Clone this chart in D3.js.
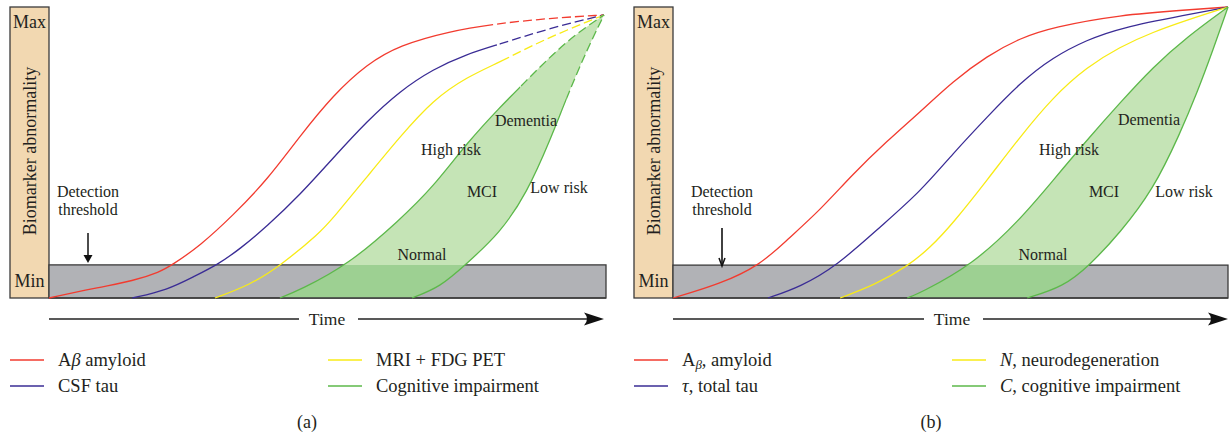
<!DOCTYPE html>
<html><head><meta charset="utf-8">
<script src="https://cdn.jsdelivr.net/npm/d3@7"></script>
<style>
body{margin:0;background:#fff}
svg{display:block}
text{font-family:"Liberation Serif","Times New Roman",serif;fill:#231f20}
</style>
</head><body>
<svg id="c" width="1229" height="436"></svg>
<script>
// ---------- DATA (time 0..100, abnormality 0..100) ----------
const tickLabels = ["Min", "Max"];
const thresholds = [11.7, 11.3];           // detection threshold level, panel a / b
const seriesColors = ["#f23b2f", "#3a2c95", "#f8eb16", "#5cb84a", "#5cb84a"];

// Panel (a)
const amyloidA = [[0,0],[9.2,3.9],[15.1,6.0],[20.0,9.2],[22.2,11.7],[27.2,18.4],[33.2,29.3],[39.3,41.7],[45.2,57.2],[51.2,71.7],[57.3,82.7],[63.2,89.4],[72.3,94.3],[80.0,96.8],[90.3,98.9],[100,100]];
const tauA     = [[15.0,0],[21.3,2.8],[26.3,7.8],[30.3,11.7],[34.4,17.3],[39.3,25.4],[45.2,36.4],[51.2,49.5],[57.3,62.5],[63.2,73.1],[69.2,80.9],[75.3,86.2],[80.7,89.4],[90.3,95.4],[100,100]];
const mriA     = [[29.9,0],[36.2,4.6],[41.6,11.3],[48.8,23.0],[51.2,28.3],[57.3,42.8],[63.2,56.9],[69.2,70.0],[75.3,78.1],[81.3,83.4],[87.2,89.4],[93.3,94.7],[100,100]];
const cogHighA = [[41.6,0],[45.2,2.8],[53.9,11.7],[63.2,27.6],[69.2,39.2],[75.3,54.8],[81.3,67.5],[84.9,74.6],[93.3,91.2],[100,100]];
const cogLowA  = [[65.4,0],[70.5,3.9],[75.0,11.7],[81.3,23.0],[86.1,37.1],[90.3,55.8],[93.3,71.0],[96.9,87.6],[100,100]];
const dashStartA = [80.0, 80.7, 82.5, 84.9, 93.3];

// Panel (b)
const amyloidB = [[0,0],[8.5,4.8],[15.7,11.3],[20.5,19.9],[26.5,30.2],[32.4,42.6],[38.6,54.0],[44.5,63.9],[50.5,74.6],[56.6,83.2],[62.5,89.3],[68.5,93.1],[80.5,97.3],[92.6,99.0],[100,100]];
const tauB     = [[17.1,0],[22.9,3.8],[29.5,11.0],[37.3,24.4],[44.5,36.4],[50.5,49.8],[56.6,62.2],[62.5,73.9],[68.5,82.8],[74.6,88.7],[80.5,92.8],[92.6,97.3],[100,100]];
const neuroB   = [[30.1,0],[36.4,4.5],[42.3,11.0],[46.3,17.2],[50.5,25.8],[56.6,40.5],[62.5,55.3],[68.5,69.1],[74.6,79.4],[80.5,86.3],[86.5,91.4],[92.6,95.5],[100,100]];
const cogHighB = [[42.2,0],[44.5,1.7],[53.9,11.3],[62.5,26.8],[68.5,40.5],[74.6,54.3],[80.5,67.0],[86.5,79.4],[92.6,89.7],[100,100]];
const cogLowB  = [[63.8,0],[70.3,3.8],[75.1,11.3],[80.5,22.3],[86.5,37.1],[91.4,56.7],[94.4,70.4],[97.3,85.2],[100,100]];
const dashStartB = [null, null, null, null, null];

// Text
const axisTitle = "Biomarker abnormality";
const timeLabel = "Time";
const detectionLabel = ["Detection", "threshold"];
const regionLabels = ["Dementia", "High risk", "MCI", "Low risk", "Normal"];
const legendA = [[["A"],["β","i"],[" amyloid"]], [["CSF tau"]], [["MRI + FDG PET"]], [["Cognitive impairment"]]];
const legendB = [[["A"],["β","s"],[", amyloid"]], [["τ","i"],[", total tau"]], [["N","i"],[", neurodegeneration"]], [["C","i"],[", cognitive impairment"]]];
const captions = ["(a)", "(b)"];

// ---------- LAYOUT ----------
const svg = d3.select("#c");
const panels = [
  {dx:0,   px0:49,  px1:604,  band1:606,  top:15, thr:thresholds[0],
   series:[amyloidA,tauA,mriA,cogHighA,cogLowA], dash:dashStartA, legend:legendA, cap:captions[0],
   det:{x:88, y1:233, y2:263, filled:true},
   regions:[[526,126],[451,155],[482,197],[559,193],[422,260]], timeC:327},
  {dx:624, px0:673, px1:1228, band1:1228, top:7, thr:thresholds[1],
   series:[amyloidB,tauB,neuroB,cogHighB,cogLowB], dash:dashStartB, legend:legendB, cap:captions[1],
   det:{x:722, y1:228, y2:266, filled:false},
   regions:[[1149,125],[1069,155],[1104,197],[1184,197],[1043,260]], timeC:952}
];
const BOTTOM = 298, BOXTOP = 7;
const stroke = "#3b3b3b";

panels.forEach((p, pi) => {
  const g = svg.append("g");
  const defs = g.append("defs");
  const x = d3.scaleLinear([0,100],[p.px0,p.px1]);
  const y = d3.scaleLinear([0,100],[BOTTOM,p.top]);
  const bx0 = 10 + p.dx;

  // y-axis box
  g.append("rect").attr("x",bx0).attr("y",BOXTOP).attr("width",p.px0-bx0).attr("height",BOTTOM-BOXTOP)
    .attr("fill","#f2d8b1").attr("stroke",stroke).attr("stroke-width",1.3);
  const bc = (bx0+p.px0)/2;
  g.append("text").attr("x",bc).attr("y",BOXTOP+21).attr("text-anchor","middle").attr("font-size",18).text(tickLabels[1]);
  g.append("text").attr("x",bc).attr("y",BOTTOM-11).attr("text-anchor","middle").attr("font-size",18).text(tickLabels[0]);
  g.append("text").attr("transform",`translate(${bx0+26},151) rotate(-90)`).attr("text-anchor","middle")
    .attr("font-size",18).text(axisTitle);

  // threshold band
  const bandY = y(p.thr);
  g.append("rect").attr("x",p.px0).attr("y",bandY).attr("width",p.band1-p.px0).attr("height",BOTTOM-bandY)
    .attr("fill","#b1b2b6").attr("stroke",stroke).attr("stroke-width",1.3);

  const line = d3.line().x(d=>x(d[0])).y(d=>y(d[1])).curve(d3.curveBasis);

  // cognitive impairment band
  const up = p.series[3], lo = p.series[4];
  const dPath = line(up) + "L" + line(lo.slice().reverse()).slice(1) + "Z";
  g.append("path").attr("d",dPath).attr("fill","#c5e4b6").attr("stroke","none");
  const bandClip = `band${pi}`;
  defs.append("clipPath").attr("id",bandClip).append("rect").attr("x",p.px0).attr("y",bandY)
    .attr("width",p.band1-p.px0).attr("height",BOTTOM-bandY);
  g.append("path").attr("d",dPath).attr("fill","#9dd092").attr("stroke","none").attr("clip-path",`url(#${bandClip})`);
  g.append("line").attr("x1",p.px0).attr("x2",p.band1).attr("y1",BOTTOM).attr("y2",BOTTOM).attr("stroke",stroke).attr("stroke-width",1.3);

  // curves
  p.series.forEach((s, si) => {
    const ds = p.dash[si];
    const col = seriesColors[si];
    if (ds == null) {
      g.append("path").attr("d",line(s)).attr("fill","none").attr("stroke",col).attr("stroke-width",1.3);
    } else {
      const idS = `clipS${pi}_${si}`, idD = `clipD${pi}_${si}`;
      defs.append("clipPath").attr("id",idS).append("rect").attr("x",0).attr("y",0).attr("width",x(ds)).attr("height",436);
      defs.append("clipPath").attr("id",idD).append("rect").attr("x",x(ds)).attr("y",0).attr("width",1229-x(ds)).attr("height",436);
      g.append("path").attr("d",line(s)).attr("fill","none").attr("stroke",col).attr("stroke-width",1.3).attr("clip-path",`url(#${idS})`);
      g.append("path").attr("d",line(s)).attr("fill","none").attr("stroke",col).attr("stroke-width",1.3)
        .attr("stroke-dasharray","9,4").attr("clip-path",`url(#${idD})`);
    }
  });

  // region labels
  regionLabels.forEach((t,i) => {
    g.append("text").attr("x",p.regions[i][0]).attr("y",p.regions[i][1]).attr("text-anchor","middle").attr("font-size",16).text(t);
  });

  // detection threshold
  const dt = p.det;
  g.append("text").attr("x",dt.x).attr("y",197).attr("text-anchor","middle").attr("font-size",16).text(detectionLabel[0]);
  g.append("text").attr("x",dt.x).attr("y",215).attr("text-anchor","middle").attr("font-size",16).text(detectionLabel[1]);
  if (dt.filled) {
    g.append("line").attr("x1",dt.x).attr("x2",dt.x).attr("y1",dt.y1).attr("y2",dt.y2-6).attr("stroke","#111").attr("stroke-width",1.5);
    g.append("path").attr("d",`M${dt.x-4.5},${dt.y2-8}L${dt.x+4.5},${dt.y2-8}L${dt.x},${dt.y2}Z`).attr("fill","#111");
  } else {
    g.append("line").attr("x1",dt.x).attr("x2",dt.x).attr("y1",dt.y1).attr("y2",dt.y2).attr("stroke","#111").attr("stroke-width",1.6);
    g.append("path").attr("d",`M${dt.x-3},${dt.y2-8}L${dt.x},${dt.y2}L${dt.x+3},${dt.y2-8}`).attr("fill","none").attr("stroke","#111").attr("stroke-width",1.5);
  }

  // time arrow
  const ty = 319, tip = p.px1;
  g.append("line").attr("x1",p.px0).attr("x2",p.timeC-28).attr("y1",ty).attr("y2",ty).attr("stroke","#222").attr("stroke-width",1.5);
  g.append("line").attr("x1",p.timeC+31).attr("x2",tip-12).attr("y1",ty).attr("y2",ty).attr("stroke","#222").attr("stroke-width",1.5);
  g.append("path").attr("d",`M${tip},${ty}L${tip-20},${ty-6.5}Q${tip-14},${ty} ${tip-20},${ty+6.5}Z`).attr("fill","#111");
  g.append("text").attr("x",p.timeC).attr("y",325).attr("text-anchor","middle").attr("font-size",17.5).text(timeLabel);

  // legend
  const lx = [10+p.dx, 328+p.dx], ly = [360, 386];
  p.legend.forEach((parts, i) => {
    const cx = lx[Math.floor(i/2)], cy = ly[i%2];
    g.append("line").attr("x1",cx).attr("x2",cx+34).attr("y1",cy).attr("y2",cy).attr("stroke",seriesColors[i]).attr("stroke-width",1.5);
    const t = g.append("text").attr("x",cx+48).attr("y",cy+5.5).attr("font-size",18.5);
    parts.forEach(pt => {
      const ts = t.append("tspan").text(pt[0]);
      if (pt[1] === "i") ts.attr("font-style","italic");
      if (pt[1] === "s") { ts.attr("font-style","italic").attr("font-size",13).attr("baseline-shift","-25%"); }
    });
  });

  // caption
  g.append("text").attr("x",307+p.dx).attr("y",428).attr("text-anchor","middle").attr("font-size",18).text(p.cap);
});
</script>
</body></html>
